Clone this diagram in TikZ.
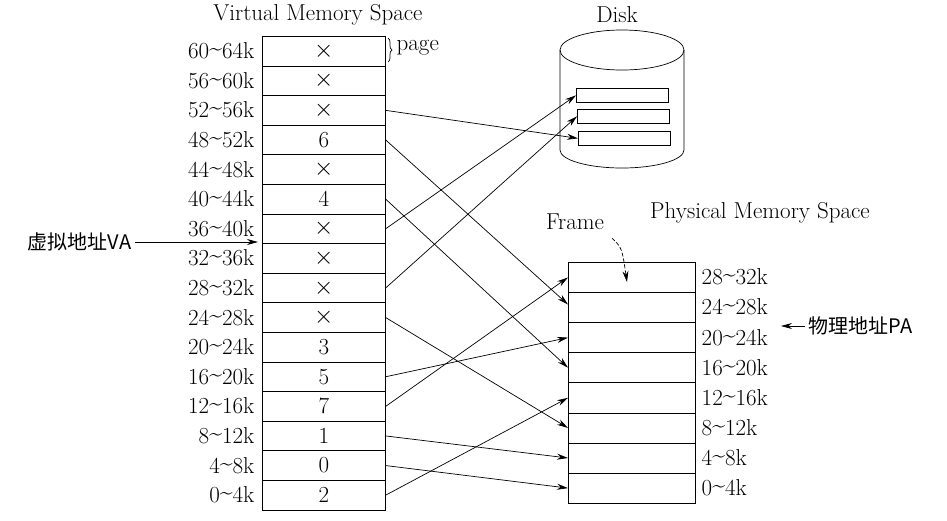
\documentclass[tikz,border=0pt]{standalone}
\usepackage{fontspec}
\newfontfamily\cjk{Noto Sans CJK SC}
\usetikzlibrary{arrows.meta,decorations.pathreplacing}
\newcommand{\tl}{\raisebox{0.3ex}{\textasciitilde}}
\begin{document}
\begin{tikzpicture}[x=1pt,y=-1pt,font=\fontsize{23}{26}\selectfont,line width=0.7pt,
  cell/.style={draw,minimum width=123pt,minimum height=29.6pt,inner sep=0pt,anchor=north west},
  pcell/.style={draw,minimum width=127pt,minimum height=30.1pt,inner sep=0pt,anchor=north west},
  arr/.style={-{Stealth[length=11pt,width=6pt]}},
  slot/.style={draw,minimum width=92pt,minimum height=14pt,inner sep=0pt,anchor=north west}]
\useasboundingbox (0,0) rectangle (947,520);
\fill[white] (0,0) rectangle (947,520);
\node (vt) at (318,15) {Virtual Memory Space};
\foreach \i/\a/\b/\v in {0/60/64/$\times$,1/56/60/$\times$,2/52/56/$\times$,3/48/52/6,4/44/48/$\times$,5/40/44/4,6/36/40/$\times$,7/32/36/$\times$,8/28/32/$\times$,9/24/28/$\times$,10/20/24/3,11/16/20/5,12/12/16/7,13/8/12/1,14/4/8/0,15/0/4/2}{
  \node[cell] (v\i) at (262,{36+29.6*\i}) {\v};
  \node[anchor=east] (vl\i) at (258,{36+29.6*\i+14.8}) {\a\tl\b k};
}
\foreach \i/\a/\b in {0/28/32,1/24/28,2/20/24,3/16/20,4/12/16,5/8/12,6/4/8,7/0/4}{
  \node[pcell] (p\i) at (568,{262+30.1*\i}) {};
  \node[anchor=west] (pl\i) at (698,{262+30.1*\i+15}) {\a\tl\b k};
}
\draw[decorate,decoration={brace,amplitude=4pt}] (388,38) -- (388,62);
\node[anchor=west] (pg) at (393,48) {page};
% disk
\node (dk) at (617,15) {Disk};
\draw (560,50) -- (560,150) arc[start angle=180,end angle=0,x radius=62,y radius=18] -- (684,50);
\draw (622,50) ellipse[x radius=62,y radius=20];
\node[slot] (s1) at (576,88) {};
\node[slot] (s2) at (577,109) {};
\node[slot] (s3) at (578,131) {};
\coordinate (VA) at (258,242);
\node[anchor=east,font=\cjk\fontsize{20}{24}\selectfont] (va) at (135,242) {虚拟地址VA};
\draw[arr] (va.east) -- (VA);
\node[font=\cjk\fontsize{20}{24}\selectfont,anchor=west] (pa) at (805,326) {物理地址PA};
\draw[arr] (pa.west) -- (781,326);
\node (fr) at (575,222) {Frame};
\node (pm) at (760,213) {Physical Memory Space};
\draw[arr,dash pattern=on 4pt off 2pt] (612,238) .. controls (622,248) .. (627,282);
% arrows
\draw[arr] (v2.east) -- (s3.west);
\draw[arr] (v6.east) -- (s1.west);
\draw[arr] (v8.east) -- (s2.west);
\draw[arr] (v3.east) -- ([yshift=3pt]p1.west);
\draw[arr] (v5.east) -- (p3.west);
\draw[arr] (v9.east) -- (p5.west);
\draw[arr] (v11.east) -- (p2.west);
\draw[arr] (v12.east) -- (p0.west);
\draw[arr] (v13.east) -- (p6.west);
\draw[arr] (v14.east) -- (p7.west);
\draw[arr] (v15.east) -- (p4.west);
\end{tikzpicture}
\end{document}
